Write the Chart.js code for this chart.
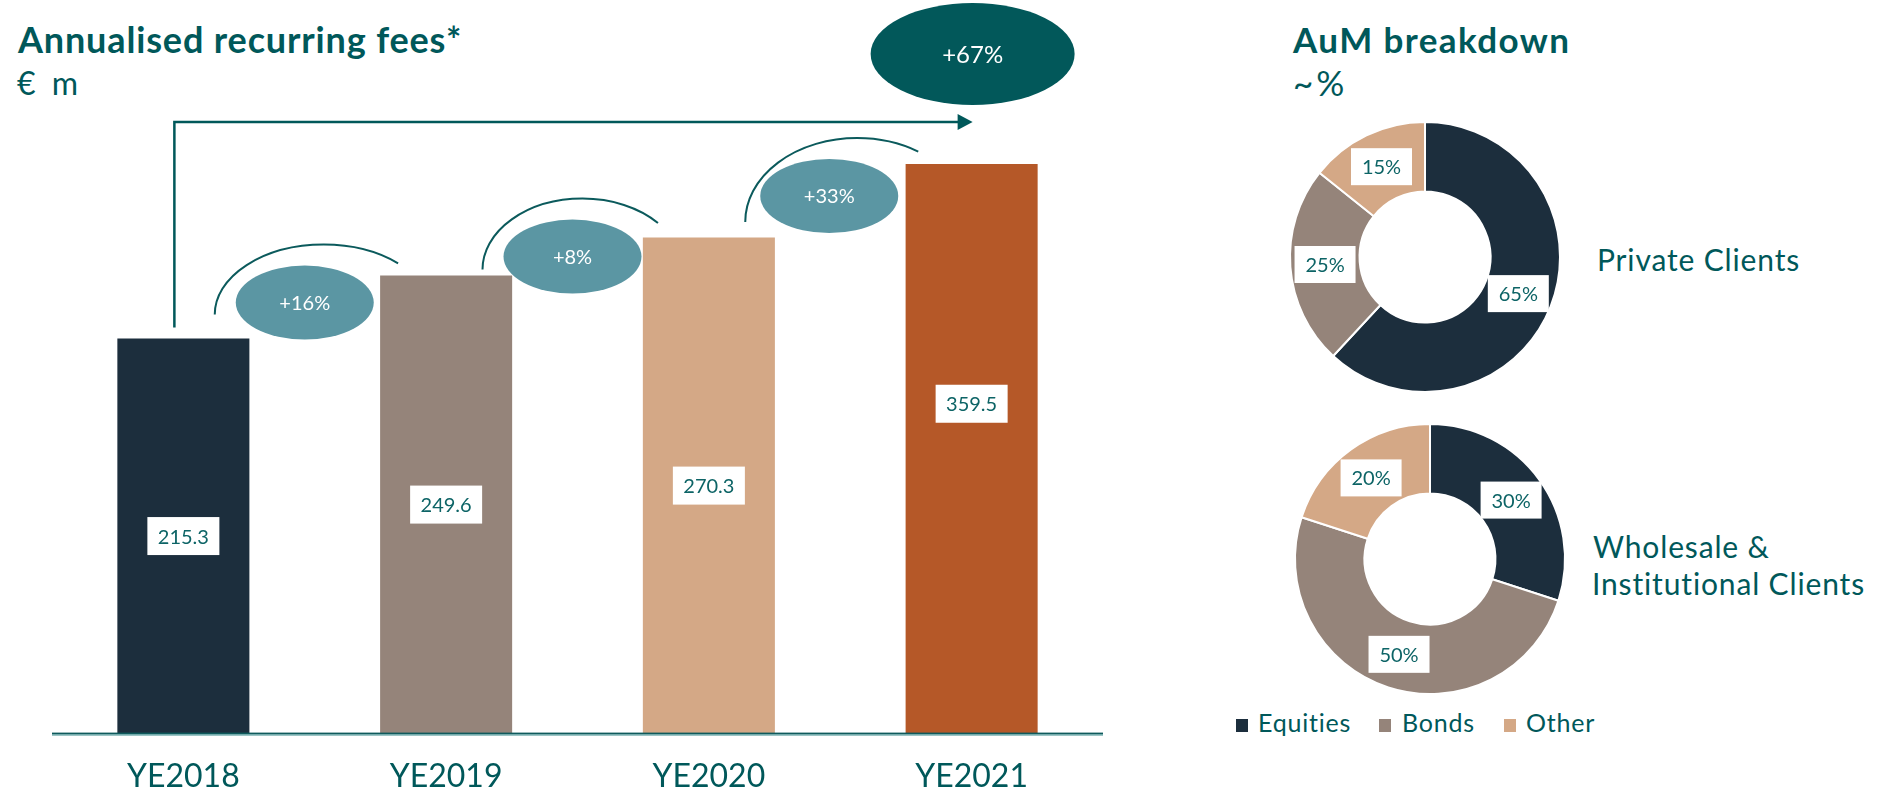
<!DOCTYPE html>
<html>
<head>
<meta charset="utf-8">
<script src="https://cdn.jsdelivr.net/npm/chart.js@4.4.0/dist/chart.umd.min.js"></script>
<style>
  html, body { margin: 0; padding: 0; background: #fff; width: 1879px; height: 795px; overflow: hidden; }
  body { font-family: Lato, sans-serif; color: #00585a; position: relative; }
  .abs { position: absolute; white-space: nowrap; line-height: 1; }
  .title { font-weight: 700; font-size: 36px; letter-spacing: 0.85px; }
  .sub { font-size: 32px; }
  .seg { font-size: 30px; letter-spacing: 0.85px; }
  .leg { font-size: 25px; letter-spacing: 0.8px; }
  .sq { position: absolute; width: 12px; height: 13px; }
</style>
</head>
<body>
<div class="abs title" style="left:18px;top:21px;">Annualised recurring fees*</div>
<div class="abs sub" style="left:17px;top:67px;word-spacing:8px;">€ m</div>
<div class="abs title" style="left:1293px;top:22px;font-size:35px;letter-spacing:1.4px;">AuM breakdown</div>
<div class="abs sub" style="left:1293px;top:65px;font-size:35px;letter-spacing:3px;">~%</div>

<div class="abs" style="left:0;top:0;width:1120px;height:830px;"><canvas id="feesChart" width="1120" height="830"></canvas></div>
<div class="abs" style="left:1285px;top:117px;width:280px;height:280px;"><canvas id="privateChart" width="280" height="280"></canvas></div>
<div class="abs" style="left:1290px;top:419px;width:280px;height:280px;"><canvas id="wholesaleChart" width="280" height="280"></canvas></div>

<div class="abs seg" style="left:1597px;top:244px;">Private Clients</div>
<div class="abs seg" style="left:1593px;top:531px;">Wholesale &amp;</div>
<div class="abs seg" style="left:1592px;top:568px;">Institutional Clients</div>

<div id="legend"></div>

<script>
// ---- data ----
const years = ['YE2018', 'YE2019', 'YE2020', 'YE2021'];
const fees = [215.3, 249.6, 270.3, 359.5];
const yearGrowth = ['+16%', '+8%', '+33%'];
const totalGrowth = '+67%';

const assetClasses = ['Equities', 'Bonds', 'Other'];
const privateShares = [65, 25, 15];
const wholesaleShares = [30, 50, 20];

const barColors = ['#1c2e3d', '#95847a', '#d4a886', '#b55828'];
const assetColors = ['#1c2e3d', '#95847a', '#d4a886'];
const teal = '#00585a';
const textTeal = '#0d6466';

// legend (html)
const legendPos = [[1236, 1258], [1379, 1402], [1504, 1526]];
const legend = document.getElementById('legend');
assetClasses.forEach((name, i) => {
    const sq = document.createElement('div');
    sq.className = 'sq';
    sq.style.left = legendPos[i][0] + 'px';
    sq.style.top = '719px';
    sq.style.background = assetColors[i];
    legend.appendChild(sq);
    const t = document.createElement('div');
    t.className = 'abs leg';
    t.style.left = legendPos[i][1] + 'px';
    t.style.top = '710px';
    t.textContent = name;
    legend.appendChild(t);
});

function labelBox(ctx, text, x, y, w, h, size) {
    ctx.fillStyle = '#fff';
    ctx.fillRect(x - w / 2, y - h / 2, w, h);
    ctx.fillStyle = textTeal;
    ctx.font = size + 'px Lato';
    ctx.textAlign = 'center';
    ctx.textBaseline = 'middle';
    ctx.fillText(text, x, y + 1);
}

function bubble(ctx, text, x, y, rx, ry, color, size) {
    ctx.fillStyle = color;
    ctx.beginPath();
    ctx.ellipse(x, y, rx, ry, 0, 0, Math.PI * 2);
    ctx.fill();
    ctx.fillStyle = '#fff';
    ctx.font = size + 'px Lato';
    ctx.textAlign = 'center';
    ctx.textBaseline = 'middle';
    ctx.fillText(text, x, y + 1);
}

// where the growth bubbles and arcs sit, relative to the gap between bars
const bubbleOffsets = [{ dx: -10, dy: 27 }, { dx: -5, dy: 19 }, { dx: -11, dy: 32 }];
const arcOffsets = [
    { dx: 9, dy: 39, rx: 109, ry: 70, end: -47 },
    { dx: 5, dy: 32, rx: 100, ry: 71, end: -41 },
    { dx: 17, dy: 58, rx: 112, ry: 84, end: -57 }
];

const feesDecor = {
    id: 'feesDecor',
    afterDatasetsDraw(chart) {
        const { ctx, chartArea, scales: { y } } = chart;
        const bars = chart.getDatasetMeta(0).data;
        const visTop = i => Math.max(bars[i].y, chartArea.top);
        ctx.save();

        // base line
        ctx.fillStyle = '#0f5a5c';
        ctx.fillRect(52, chartArea.bottom - 1, 1051, 1.6);
        ctx.fillStyle = '#5c9fa0';
        ctx.fillRect(52, chartArea.bottom + 0.6, 1051, 1.4);

        // values inside bars
        bars.forEach((bar, i) => {
            labelBox(ctx, fees[i].toFixed(1), bar.x, y.getPixelForValue(fees[i] / 2), 72, 38, 20);
        });

        // year-on-year arcs and bubbles
        yearGrowth.forEach((g, i) => {
            const mid = (bars[i].x + bars[i + 1].x) / 2;
            const top = visTop(i + 1);
            const a = arcOffsets[i];
            ctx.strokeStyle = '#0b5a5c';
            ctx.lineWidth = 2;
            ctx.beginPath();
            ctx.ellipse(mid + a.dx, top + a.dy, a.rx, a.ry, 0, Math.PI, Math.PI * 2 + a.end * Math.PI / 180);
            ctx.stroke();
            const b = bubbleOffsets[i];
            bubble(ctx, g, mid + b.dx, top + b.dy, 69, 37, '#5b96a3', 20);
        });

        // overall arrow
        const x0 = bars[0].x - 9;
        const xEnd = bars[bars.length - 1].x + 1;
        const yA = chartArea.top - 42;
        ctx.strokeStyle = teal;
        ctx.lineWidth = 2.5;
        ctx.beginPath();
        ctx.moveTo(x0, visTop(0) - 11);
        ctx.lineTo(x0, yA);
        ctx.lineTo(xEnd - 14, yA);
        ctx.stroke();
        ctx.fillStyle = teal;
        ctx.beginPath();
        ctx.moveTo(xEnd - 15, yA - 8);
        ctx.lineTo(xEnd, yA);
        ctx.lineTo(xEnd - 15, yA + 8);
        ctx.closePath();
        ctx.fill();

        bubble(ctx, totalGrowth, xEnd, chartArea.top - 110, 102, 51, '#02585a', 24);
        ctx.restore();
    }
};

new Chart(document.getElementById('feesChart'), {
    type: 'bar',
    data: {
        labels: years,
        datasets: [{
            data: fees,
            backgroundColor: barColors,
            borderWidth: 0,
            categoryPercentage: 0.5025,
            barPercentage: 1,
            clip: { left: false, right: false, top: 0, bottom: 0 }
        }]
    },
    options: {
        responsive: false,
        animation: false,
        layout: { padding: { left: 52, right: 17, top: 164, bottom: 10 } },
        plugins: { legend: { display: false }, tooltip: { enabled: false } },
        scales: {
            x: {
                grid: { display: false, drawTicks: false },
                border: { display: false },
                ticks: { color: teal, font: { family: 'Lato', size: 32 }, padding: 24 }
            },
            y: {
                display: false,
                min: 0,
                max: 310.4
            }
        }
    },
    plugins: [feesDecor]
});

const donutLabels = {
    id: 'donutLabels',
    afterDatasetsDraw(chart) {
        const ctx = chart.ctx;
        const vals = chart.data.datasets[0].data;
        ctx.save();
        chart.getDatasetMeta(0).data.forEach((arc, i) => {
            const p = arc.getCenterPoint();
            labelBox(ctx, vals[i] + '%', p.x, p.y, 61, 37, 20);
        });
        ctx.restore();
    }
};

function donut(id, shares) {
    new Chart(document.getElementById(id), {
        type: 'doughnut',
        data: {
            labels: assetClasses,
            datasets: [{
                data: shares,
                backgroundColor: assetColors,
                borderColor: '#fff',
                borderWidth: 2
            }]
        },
        options: {
            responsive: false,
            animation: false,
            cutout: '48.5%',
            layout: { padding: 4 },
            plugins: { legend: { display: false }, tooltip: { enabled: false } }
        },
        plugins: [donutLabels]
    });
}

donut('privateChart', privateShares);
donut('wholesaleChart', wholesaleShares);
</script>
</body>
</html>
